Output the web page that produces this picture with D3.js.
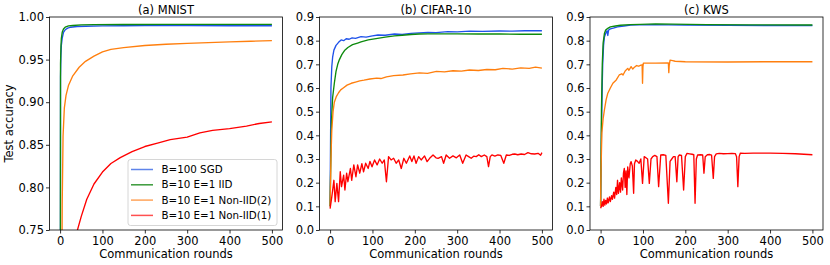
<!DOCTYPE html>
<html>
<head>
<meta charset="utf-8">
<script src="https://cdn.jsdelivr.net/npm/d3@7"></script>
<style>
  body { margin: 0; background: #fff; }
  svg { display: block; font-family: "DejaVu Sans", sans-serif; }
</style>
</head>
<body>
<div id="chart"></div>
<script>
// values, [round, accuracy]
const mnistSgd = [[0,0.10],[1,0.93],[2,0.955],[3,0.967],[5,0.975],[8,0.982],[12,0.985],[18,0.987],[25,0.988],[40,0.9888],[60,0.9892],[100,0.9895],[150,0.9897],[200,0.9898],[300,0.9898],[400,0.9897],[500,0.9897]];
const mnistIid = [[0,0.10],[1,0.945],[2,0.965],[3,0.975],[5,0.982],[8,0.986],[12,0.988],[20,0.9895],[30,0.990],[50,0.9907],[80,0.991],[150,0.9912],[250,0.9913],[350,0.9914],[500,0.9914]];
const mnistNon2 = [[0,0.10],[3,0.55],[5,0.78],[7,0.86],[10,0.893],[14,0.908],[20,0.92],[30,0.931],[45,0.941],[60,0.948],[80,0.954],[100,0.959],[120,0.962],[150,0.964],[200,0.9665],[250,0.968],[300,0.969],[350,0.970],[400,0.9708],[450,0.9715],[500,0.9722]];
const mnistNon1 = [[0,0.10],[10,0.45],[25,0.65],[41,0.75],[50,0.766],[63,0.786],[80,0.804],[100,0.818],[120,0.828],[142,0.835],[170,0.842],[200,0.848],[230,0.852],[260,0.856],[300,0.859],[330,0.864],[360,0.867],[400,0.869],[440,0.872],[470,0.875],[500,0.877]];

const cifarSgd = [[0,0.10],[2,0.60],[4,0.69],[6,0.73],[9,0.76],[14,0.78],[20,0.793],[26,0.803],[32,0.80],[38,0.808],[45,0.806],[52,0.812],[60,0.81],[73,0.817],[85,0.815],[100,0.82],[113,0.824],[130,0.823],[152,0.828],[170,0.826],[191,0.831],[210,0.833],[231,0.835],[250,0.834],[278,0.838],[300,0.837],[330,0.84],[360,0.839],[400,0.841],[430,0.840],[460,0.842],[500,0.842]];
const cifarIid = [[0,0.10],[3,0.45],[6,0.56],[10,0.62],[14,0.67],[18,0.70],[22,0.72],[28,0.742],[34,0.758],[42,0.771],[53,0.783],[65,0.79],[73,0.795],[90,0.803],[112,0.81],[130,0.815],[152,0.82],[170,0.823],[191,0.826],[210,0.828],[231,0.829],[260,0.829],[300,0.829],[350,0.828],[400,0.828],[450,0.827],[500,0.827]];
const cifarNon2 = [[0,0.10],[2,0.30],[4,0.42],[7,0.50],[10,0.54],[15,0.565],[20,0.58],[25,0.592],[31,0.60],[40,0.612],[50,0.62],[60,0.625],[70,0.63],[80,0.633],[94,0.638],[110,0.642],[120,0.640],[133,0.647],[150,0.652],[172,0.655],[190,0.66],[211,0.664],[230,0.662],[251,0.67],[270,0.668],[290,0.673],[310,0.671],[329,0.676],[350,0.674],[370,0.678],[390,0.677],[408,0.683],[430,0.68],[450,0.685],[470,0.683],[485,0.688],[500,0.684]];
const cifarNon1 = [[0,0.09],[4,0.14],[9,0.21],[12,0.12],[16,0.197],[20,0.12],[24,0.246],[27,0.183],[32,0.232],[35,0.169],[39,0.24],[42,0.204],[48,0.26],[51,0.21],[56,0.275],[61,0.225],[65,0.275],[70,0.24],[75,0.28],[79,0.246],[84,0.282],[90,0.26],[94,0.29],[99,0.267],[105,0.296],[111,0.275],[117,0.30],[123,0.282],[128,0.296],[133,0.204],[138,0.31],[144,0.296],[150,0.303],[156,0.282],[162,0.296],[168,0.26],[174,0.303],[180,0.282],[188,0.313],[193,0.289],[198,0.313],[203,0.282],[209,0.31],[215,0.296],[223,0.313],[229,0.289],[235,0.303],[243,0.317],[250,0.305],[255,0.303],[263,0.31],[268,0.282],[274,0.317],[282,0.303],[290,0.313],[298,0.305],[306,0.317],[313,0.282],[321,0.317],[327,0.31],[333,0.303],[339,0.312],[345,0.31],[351,0.318],[357,0.31],[364,0.317],[370,0.31],[374,0.268],[378,0.31],[382,0.317],[389,0.312],[396,0.317],[403,0.315],[410,0.282],[416,0.317],[423,0.315],[430,0.32],[436,0.321],[443,0.318],[451,0.321],[459,0.319],[467,0.327],[475,0.322],[483,0.321],[491,0.324],[497,0.316],[500,0.327]];

const kwsSgd = [[0,0.10],[2,0.40],[4,0.62],[5,0.70],[7,0.78],[9,0.815],[12,0.83],[15,0.842],[17,0.822],[19,0.845],[23,0.85],[30,0.853],[40,0.858],[55,0.862],[71,0.866],[90,0.867],[126,0.868],[160,0.867],[200,0.866],[300,0.865],[400,0.864],[500,0.864]];
const kwsIid = [[0,0.10],[2,0.50],[4,0.70],[6,0.79],[9,0.83],[12,0.845],[17,0.852],[23,0.858],[35,0.862],[47,0.865],[70,0.868],[94,0.869],[130,0.871],[170,0.87],[250,0.868],[350,0.867],[500,0.866]];
const kwsNon2 = [[0,0.10],[1,0.25],[3,0.41],[6,0.47],[9,0.507],[13,0.55],[17,0.578],[23,0.60],[29,0.62],[37,0.634],[44,0.655],[50,0.66],[53,0.655],[58,0.672],[64,0.683],[67,0.675],[72,0.69],[76,0.68],[80,0.688],[85,0.695],[90,0.692],[95,0.697],[98,0.698],[99,0.62],[100,0.69],[101,0.705],[130,0.705],[160,0.706],[161,0.665],[162,0.695],[164,0.718],[170,0.716],[176,0.713],[200,0.711],[300,0.71],[400,0.711],[500,0.711]];
const kwsNon1 = [[0,0.092],[2,0.10],[4,0.12],[6,0.10],[8,0.13],[10,0.105],[12,0.125],[14,0.11],[16,0.135],[18,0.115],[21,0.14],[23,0.12],[26,0.145],[28,0.13],[31,0.16],[33,0.135],[36,0.18],[38,0.15],[40,0.21],[42,0.155],[45,0.2],[47,0.16],[49,0.22],[52,0.169],[54,0.24],[56,0.26],[58,0.18],[60,0.25],[62,0.15],[64,0.267],[67,0.22],[70,0.28],[72,0.289],[75,0.27],[78,0.155],[80,0.28],[83,0.296],[87,0.29],[91,0.282],[95,0.30],[99,0.197],[103,0.31],[107,0.305],[111,0.3],[115,0.197],[119,0.3],[123,0.31],[128,0.315],[133,0.31],[137,0.183],[142,0.317],[148,0.318],[154,0.315],[160,0.113],[164,0.29],[168,0.3],[172,0.31],[176,0.31],[180,0.204],[183,0.31],[186,0.317],[191,0.315],[196,0.169],[200,0.31],[204,0.324],[210,0.322],[216,0.32],[220,0.318],[223,0.113],[226,0.3],[229,0.317],[236,0.318],[241,0.317],[244,0.24],[247,0.31],[252,0.318],[258,0.319],[262,0.316],[266,0.218],[269,0.31],[273,0.322],[280,0.324],[290,0.322],[300,0.323],[310,0.324],[318,0.323],[321,0.31],[324,0.183],[327,0.31],[330,0.325],[340,0.324],[360,0.325],[380,0.325],[400,0.325],[430,0.324],[460,0.322],[480,0.32],[500,0.318]];

const seriesNames = ["B=100 SGD", "B=10 E=1 IID", "B=10 E=1 Non-IID(2)", "B=10 E=1 Non-IID(1)"];
const seriesColors = ["#1f52ea", "#0d8a0d", "#ff7f0e", "#ff0000"];
const legendColors = ["#5f84ea", "#3a9a3a", "#ffa45c", "#ff5050"];
const xTicks = [0, 100, 200, 300, 400, 500];
const mnistTicks = [0.75, 0.80, 0.85, 0.90, 0.95, 1.00];
const accTicks = [0.0, 0.1, 0.2, 0.3, 0.4, 0.5, 0.6, 0.7, 0.8, 0.9];

const panels = [
  { title: "(a) MNIST", left: 49.5, yDomain: [0.75, 1.0], ticks: mnistTicks, fmt: ".2f",
    data: [mnistSgd, mnistIid, mnistNon2, mnistNon1] },
  { title: "(b) CIFAR-10", left: 319.5, yDomain: [0, 0.9], ticks: accTicks, fmt: ".1f",
    data: [cifarSgd, cifarIid, cifarNon2, cifarNon1] },
  { title: "(c) KWS", left: 590, yDomain: [0, 0.9], ticks: accTicks, fmt: ".1f",
    data: [kwsSgd, kwsIid, kwsNon2, kwsNon1] }
];

const plotTop = 17, plotBottom = 230, panelWidth = 233;
const plotHeight = plotBottom - plotTop;

const svg = d3
  .select("#chart")
  .append("svg")
  .attr("width", 830)
  .attr("height", 265);

panels.forEach(function(p, i) {
  const x = d3.scaleLinear().domain([-25, 525]).range([0, panelWidth]);
  const y = d3.scaleLinear().domain(p.yDomain).range([plotHeight, 0]);

  const g = svg.append("g").attr("transform", "translate(" + p.left + "," + plotTop + ")");

  g.append("clipPath")
    .attr("id", "clip" + i)
    .append("rect")
    .attr("width", panelWidth)
    .attr("height", plotHeight);

  const line = d3.line()
    .x(d => x(d[0]))
    .y(d => y(d[1]));

  // draw in the same order as the legend so red ends on top
  g.append("g")
    .attr("clip-path", "url(#clip" + i + ")")
    .selectAll("path")
    .data(p.data)
    .enter()
    .append("path")
    .attr("d", line)
    .attr("fill", "none")
    .attr("stroke", (d, j) => seriesColors[j])
    .attr("stroke-width", 1.35)
    .attr("stroke-linejoin", "round");

  // axes
  const xAxis = g.append("g")
    .attr("transform", "translate(0," + plotHeight + ")")
    .call(d3.axisBottom(x).tickValues(xTicks).tickSize(3.5).tickPadding(3.5));
  const yAxis = g.append("g")
    .call(d3.axisLeft(y).tickValues(p.ticks).tickFormat(d3.format(p.fmt)).tickSize(3.5).tickPadding(2));
  [xAxis, yAxis].forEach(function(a) {
    a.select(".domain").remove();
    a.selectAll("text")
      .style("font-size", "11.5px")
      .style("font-family", "DejaVu Sans")
      .attr("fill", "#000");
    a.selectAll("line").attr("stroke", "#000").attr("stroke-width", 0.8);
  });

  // frame
  g.append("rect")
    .attr("width", panelWidth)
    .attr("height", plotHeight)
    .attr("fill", "none")
    .attr("stroke", "#000")
    .attr("stroke-width", 0.8);

  g.append("text")
    .attr("x", panelWidth / 2)
    .attr("y", -3.5)
    .attr("text-anchor", "middle")
    .style("font-size", "11.5px")
    .text(p.title);

  g.append("text")
    .attr("x", panelWidth / 2)
    .attr("y", 258 - plotTop)
    .attr("text-anchor", "middle")
    .style("font-size", "11.5px")
    .text("Communication rounds");
});

svg.append("text")
  .attr("transform", "translate(13," + (plotTop + plotBottom) / 2 + ") rotate(-90)")
  .attr("text-anchor", "middle")
  .style("font-size", "11.5px")
  .text("Test accuracy");

// legend in the first panel
const legend = svg.append("g").attr("transform", "translate(128,159.5)");
legend.append("rect")
  .attr("width", 149)
  .attr("height", 66)
  .attr("rx", 2.5)
  .attr("fill", "#fff")
  .attr("fill-opacity", 0.8)
  .attr("stroke", "#cccccc")
  .attr("stroke-width", 0.8);

const items = legend.selectAll(".item")
  .data(seriesNames)
  .enter()
  .append("g")
  .attr("class", "item")
  .attr("transform", (d, j) => "translate(0," + (10 + j * 15.3) + ")");
items.append("line")
  .attr("x1", 3)
  .attr("x2", 25)
  .attr("stroke", (d, j) => legendColors[j])
  .attr("stroke-width", 1.5);
items.append("text")
  .attr("x", 33.5)
  .attr("dy", "0.35em")
  .style("font-size", "10.3px")
  .text(d => d);
</script>
</body>
</html>
